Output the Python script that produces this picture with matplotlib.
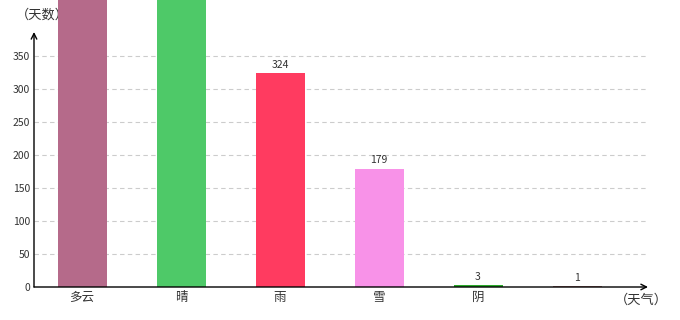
import matplotlib
matplotlib.use('Agg')
import matplotlib.pyplot as plt

plt.rcParams['font.family'] = ['Noto Sans CJK SC', 'DejaVu Sans']

# 数据
categories = ['多云', '晴', '雨', '雪', '阴', '']
days = [500, 500, 324, 179, 3, 1]
labels = ['', '', '324', '179', '3', '1']
colors = ['#b56a8a', '#4ec968', '#ff3b60', '#f892e8', '#2aaa2a', '#a87878']
yticks = [0, 50, 100, 150, 200, 250, 300, 350]

fig = plt.figure(figsize=(6.8, 3.2), dpi=100)
ax = fig.add_axes([34 / 680, 33 / 320, 614 / 680, 255 / 320])

x = list(range(len(categories)))
bars = ax.bar(x, days, width=0.495, color=colors, zorder=3, clip_on=False)

for xi, v, lab in zip(x, days, labels):
    if lab:
        ax.text(xi, v + 5, lab, ha='center', va='bottom', fontsize=7.5, color='#333333', zorder=4)

ax.set_xlim(-0.485, 5.717)
ax.set_ylim(0, 386)
ax.set_yticks(yticks)
ax.set_yticklabels([str(t) for t in yticks], fontsize=7.5, color='#333333')
ax.set_xticks(x)
ax.set_xticklabels(categories, fontsize=9, color='#333333')
ax.tick_params(length=0, pad=3)
ax.tick_params(axis='y', pad=3)

for t in yticks[1:]:
    ax.axhline(t, color='#cccccc', lw=0.8, ls=(0, (4, 3)), zorder=1)

for s in ax.spines.values():
    s.set_visible(False)

# 坐标轴箭头
ax.annotate('', xy=(1, 0), xytext=(0, 0), xycoords='axes fraction',
            arrowprops=dict(arrowstyle='->', color='black', lw=1, shrinkA=0, shrinkB=0), zorder=5)
ax.annotate('', xy=(0, 1), xytext=(0, 0), xycoords='axes fraction',
            arrowprops=dict(arrowstyle='->', color='black', lw=1, shrinkA=0, shrinkB=0), zorder=5)

ax.text(42 / 680, 1 - 15 / 320, '（天数）', transform=fig.transFigure, ha='center', va='center',
        fontsize=9.5, color='#333333', zorder=2)
ax.text(641 / 680, 1 - 300 / 320, '（天气）', transform=fig.transFigure, ha='center', va='center',
        fontsize=9.5, color='#333333', zorder=2)

fig.savefig('out.png', dpi=100)
